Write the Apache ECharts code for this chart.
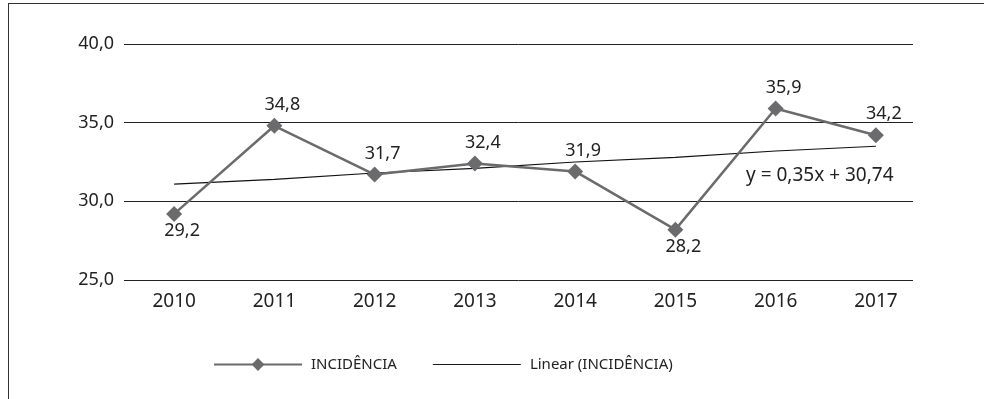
<!DOCTYPE html>
<html><head><meta charset="utf-8">
<script src="https://cdn.jsdelivr.net/npm/echarts@6/dist/echarts.min.js"></script>
<style>html,body{margin:0;padding:0;background:#fff}#c{width:984px;height:399px}</style>
</head><body><div id="c"></div>
<script>
const years = ['2010','2011','2012','2013','2014','2015','2016','2017'];
const incidencia = [29.2, 34.8, 31.7, 32.4, 31.9, 28.2, 35.9, 34.2];
const trend = [31.1, 31.4, 31.8, 32.1, 32.5, 32.8, 33.2, 33.5];
const labelPos = ['bottom','top','top','top','top','bottom','top','top'];
const yTicks = {min: 25, max: 40, interval: 5};
const equation = 'y = 0,35x + 30,74';

const font = 'Noto Sans';
const fmt = v => v.toFixed(1).replace('.', ',');
const chart = echarts.init(document.getElementById('c'), null, {renderer: 'canvas'});
chart.setOption({
  animation: false,
  textStyle: {fontFamily: font},
  grid: [
    {left: 124, width: 802, top: 44, bottom: 119},
    {left: 124, right: 71, top: 44, bottom: 119}
  ],
  xAxis: [
    {type: 'category', gridIndex: 0, data: years, boundaryGap: true,
     axisLine: {show: false}, axisTick: {show: false},
     axisLabel: {color: '#222', fontSize: 19, margin: 12, fontFamily: font}},
    {type: 'category', gridIndex: 1, data: years, show: false}
  ],
  yAxis: [
    {type: 'value', gridIndex: 0, min: yTicks.min, max: yTicks.max, interval: yTicks.interval,
     axisLabel: {show: false}, splitLine: {show: false}, axisLine: {show: false}, axisTick: {show: false}},
    {type: 'value', gridIndex: 1, min: yTicks.min, max: yTicks.max, interval: yTicks.interval,
     axisLine: {show: false}, axisTick: {show: false},
     axisLabel: {color: '#222', fontSize: 18, margin: 10, fontFamily: font, formatter: v => fmt(v)},
     splitLine: {show: true, lineStyle: {color: '#222', width: 1}}}
  ],
  legend: {
    top: 352, left: 208, itemWidth: 88, itemHeight: 16, itemGap: 36,
    textStyle: {color: '#222', fontSize: 15, fontFamily: font, padding: [0, 0, 0, 4]},
    data: [
      {name: 'INCIDÊNCIA'},
      {name: 'Linear (INCIDÊNCIA)', icon: 'path://M0,0 L100,0 L100,1.2 L0,1.2 Z', itemStyle: {color: '#1a1a1a'}}
    ]
  },
  series: [
    {name: 'Linear (INCIDÊNCIA)', type: 'line', xAxisIndex: 0, yAxisIndex: 0,
     data: trend, symbol: 'none', lineStyle: {color: '#111', width: 1.2}, itemStyle: {color: '#1a1a1a'}, z: 2},
    {name: 'INCIDÊNCIA', type: 'line', xAxisIndex: 0, yAxisIndex: 0,
     data: incidencia.map((v, i) => ({value: v, label: {position: labelPos[i], distance: labelPos[i] === 'top' ? 4 : 0}})),
     symbol: 'diamond', symbolSize: 16,
     lineStyle: {color: '#6b6b6e', width: 2.5}, itemStyle: {color: '#6b6b6e'},
     label: {show: true, color: '#222', fontSize: 18, fontFamily: font, offset: [8, 0],
             formatter: p => fmt(p.value)}, z: 3}
  ],
  graphic: [
    {type: 'text', left: 746, top: 166, style: {text: equation, fill: '#222', font: '19px "Noto Sans"'}},
    {type: 'line', shape: {x1: 8.5, y1: 3, x2: 8.5, y2: 399}, style: {stroke: '#333', lineWidth: 1}},
    {type: 'line', shape: {x1: 8, y1: 3.5, x2: 984, y2: 3.5}, style: {stroke: '#333', lineWidth: 1}}
  ]
});
</script></body></html>
